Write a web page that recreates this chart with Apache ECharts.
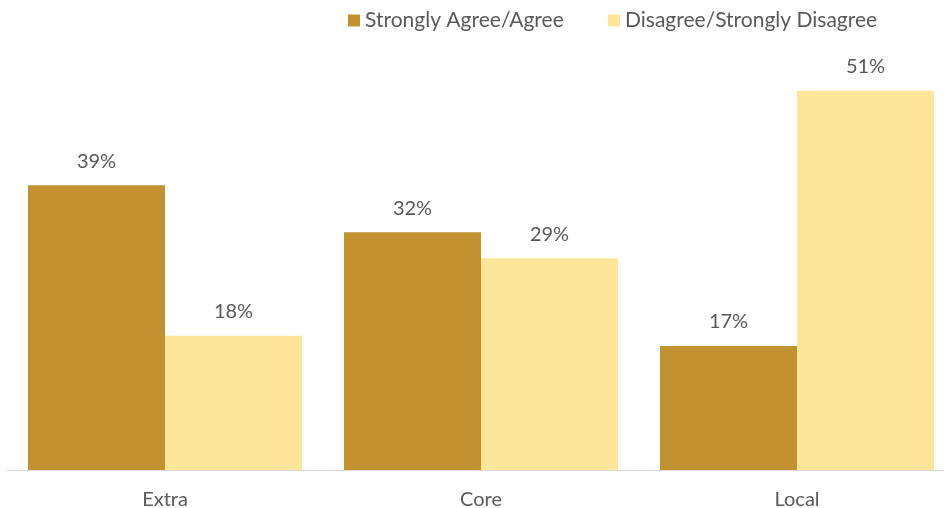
<!DOCTYPE html>
<html>
<head>
<meta charset="utf-8">
<script src="https://cdn.jsdelivr.net/npm/echarts@6/dist/echarts.min.js"></script>
<style>
html,body{margin:0;padding:0;background:#fff;}
#c{width:944px;height:508px;}
</style>
</head>
<body>
<div id="c"></div>
<script>
var categories = ['Extra', 'Core', 'Local'];
var agreeName = 'Strongly Agree/Agree';
var disagreeName = 'Disagree/Strongly Disagree';
var agreeValues = [38.6, 32.2, 16.8];
var disagreeValues = [18.2, 28.7, 51.4];

var FONT = 'Lato, "Open Sans", sans-serif';
var TXT = '#595959';
var chart = echarts.init(document.getElementById('c'), null, {renderer: 'canvas'});
var labelCfg = {
  show: true, position: 'top', distance: 14,
  color: TXT, fontFamily: FONT, fontSize: 20,
  formatter: function (p) { return Math.round(p.value) + '%'; }
};
chart.setOption({
  animation: false,
  backgroundColor: '#ffffff',
  legend: [
    {data: [agreeName], left: 343, top: 5, itemWidth: 12, itemHeight: 12, icon: 'rect',
     textStyle: {color: TXT, fontFamily: FONT, fontSize: 21}},
    {data: [disagreeName], left: 603, top: 5, itemWidth: 12, itemHeight: 12, icon: 'rect',
     textStyle: {color: TXT, fontFamily: FONT, fontSize: 21}}
  ],
  grid: {left: 7, width: 948, top: 27.2, bottom: 38, containLabel: false, outerBoundsMode: 'none'},
  xAxis: {
    type: 'category', data: categories,
    axisLine: {show: true, lineStyle: {color: '#d9d9d9', width: 1}},
    axisTick: {show: false},
    axisLabel: {color: TXT, fontFamily: FONT, fontSize: 20, margin: 20}
  },
  yAxis: {type: 'value', min: 0, max: 60, show: false, splitLine: {show: false}},
  series: [
    {name: agreeName, type: 'bar', data: agreeValues, barWidth: 137, barGap: '0%',
     itemStyle: {color: '#C29130'}, label: labelCfg},
    {name: disagreeName, type: 'bar', data: disagreeValues, barWidth: 137, barGap: '0%',
     itemStyle: {color: '#FDE699'}, label: labelCfg}
  ]
});
</script>
</body>
</html>
